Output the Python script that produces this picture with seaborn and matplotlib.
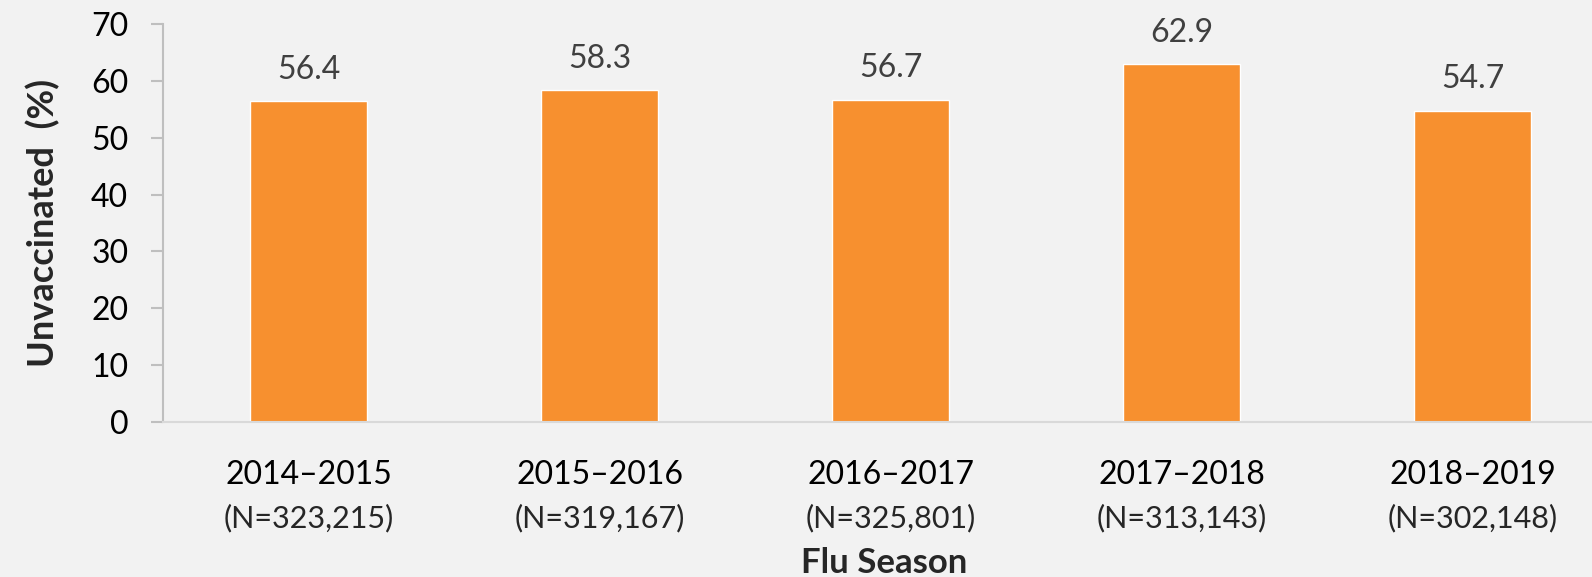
import pandas as pd
import matplotlib
matplotlib.use('Agg')
import matplotlib.pyplot as plt
import seaborn as sns

# data
seasons = ['2014–2015', '2015–2016', '2016–2017', '2017–2018', '2018–2019']
n_labels = ['(N=323,215)', '(N=319,167)', '(N=325,801)', '(N=313,143)', '(N=302,148)']
unvaccinated = [56.4, 58.3, 56.7, 62.9, 54.7]

df = pd.DataFrame({'Season': seasons, 'Unvaccinated': unvaccinated})

sns.set_style('white')
plt.rcParams['font.family'] = ['Lato', 'DejaVu Sans']

bg = '#f2f2f2'
fig = plt.figure(figsize=(15.92, 5.77), dpi=100, facecolor=bg)
ax = fig.add_axes([0.1024, 0.2686, 0.914, 0.690])
ax.set_facecolor(bg)

sns.barplot(data=df, x='Season', y='Unvaccinated', color='#f7902f',
            width=0.40, saturation=1, ax=ax)

# value labels on top of bars
ax.bar_label(ax.containers[0], labels=[f'{v:.1f}' for v in unvaccinated],
             padding=12, fontsize=23, color='#404040')

ax.set_ylim(0, 70)
ax.set_yticks(range(0, 71, 10))
ax.set_xlim(-0.5, len(seasons) - 0.5)

for s in ['top', 'right']:
    ax.spines[s].set_visible(False)
ax.spines['left'].set_color('#bfbfbf')
ax.spines['bottom'].set_color('#d9d9d9')
ax.spines['left'].set_linewidth(1.5)
ax.spines['bottom'].set_linewidth(1.5)

ax.tick_params(axis='y', length=9, width=1.5, color='#bfbfbf', pad=16,
               labelsize=23, labelcolor='black', left=True)
ax.tick_params(axis='x', length=0, pad=27, labelsize=23, labelcolor='black')

# N counts under each season
for i, n in enumerate(n_labels):
    ax.annotate(n, xy=(i, 0), xycoords=('data', 'axes fraction'),
                xytext=(0, -69), textcoords='offset points',
                ha='center', va='center', fontsize=22, color='#262626')

ax.set_xlabel('')
ax.set_ylabel('Unvaccinated  (%)', fontsize=26, fontweight='bold',
              color='#262626', labelpad=22)
fig.text(884 / 1592, 1 - 563 / 577, 'Flu Season', ha='center', va='center',
         fontsize=25, fontweight='bold', color='#262626')

plt.savefig('out.png', dpi=100, facecolor=bg)
